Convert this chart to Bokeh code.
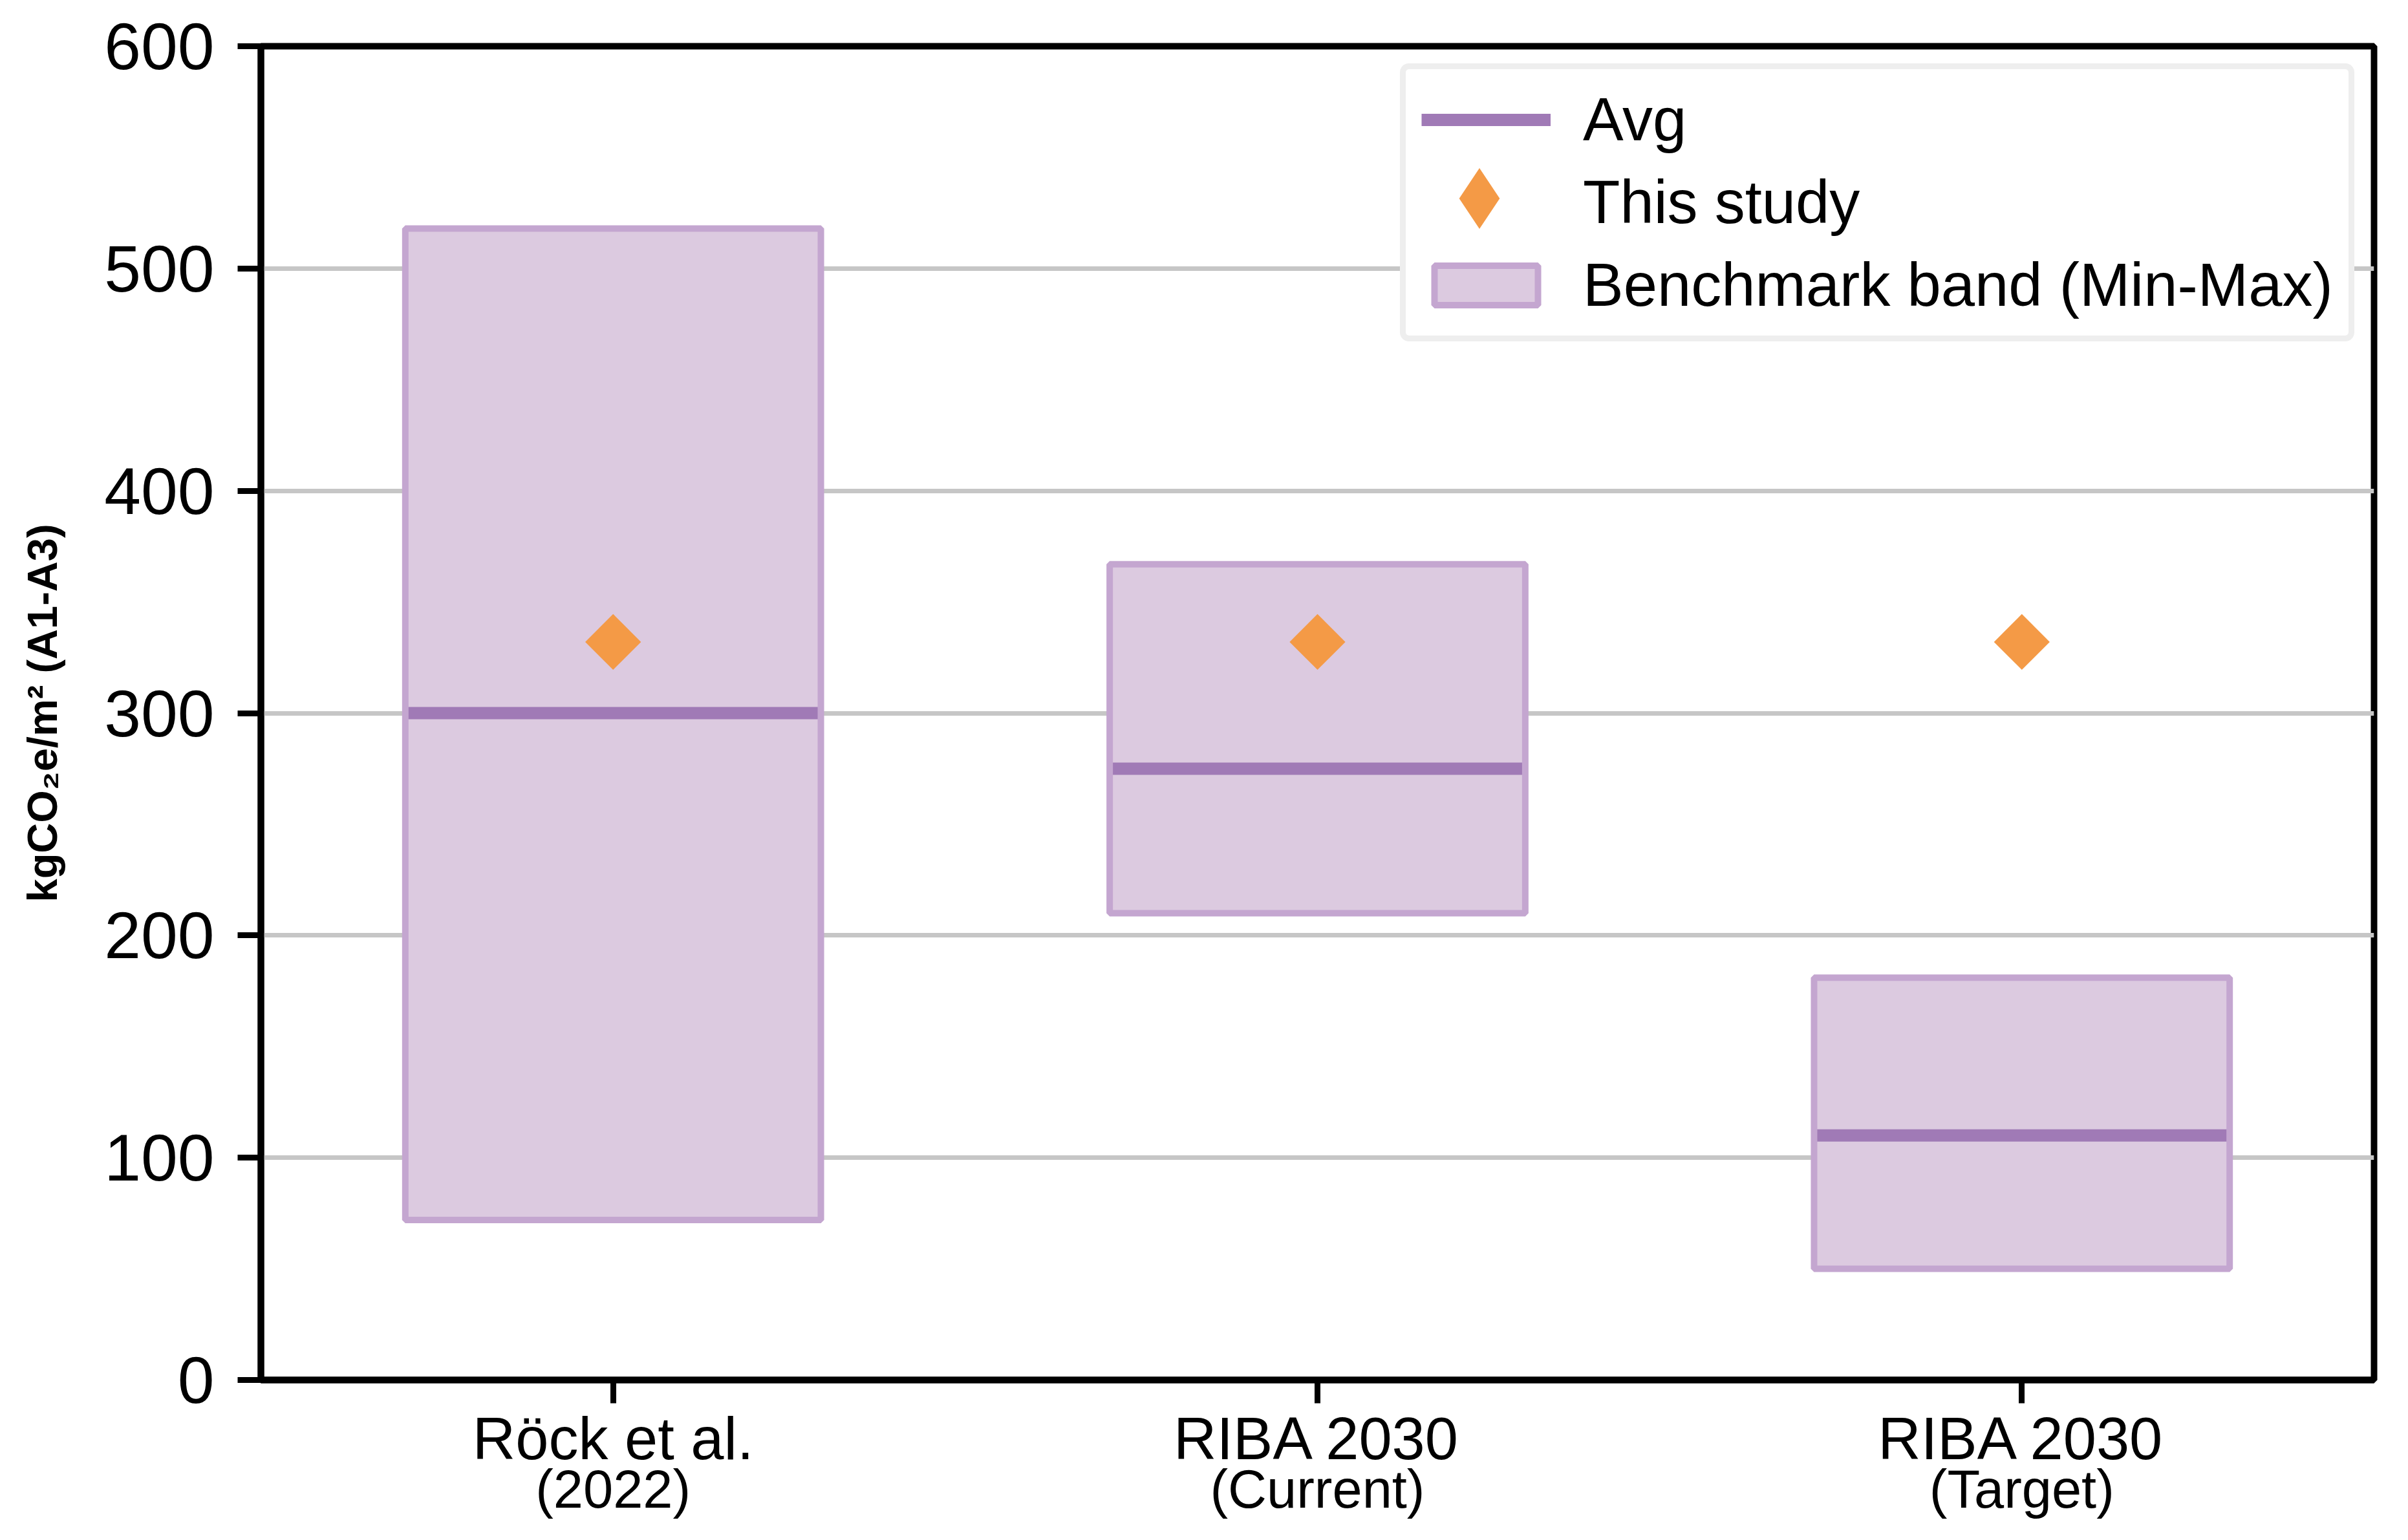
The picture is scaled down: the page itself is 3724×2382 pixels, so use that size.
import math
from bokeh.plotting import figure
from bokeh.models import (Range1d, FixedTicker, Legend, LegendItem,
                          ColumnDataSource, LinearAxis)
from bokeh.embed import file_html
from bokeh.resources import INLINE

# ---------------- data ----------------
categories = ["Röck et al.", "RIBA 2030", "RIBA 2030"]
category_notes = ["(2022)", "(Current)", "(Target)"]
band_min = [72, 210, 50]
band_max = [518, 367, 181]
band_avg = [300, 275, 110]
this_study = [332, 332, 332]
y_ticks = [0, 100, 200, 300, 400, 500, 600]
y_label = "kgCO₂e/m² (A1-A3)"
legend_labels = ["Avg", "This study", "Benchmark band (Min-Max)"]

# ---------------- style / layout ----------------
FONT = "Liberation Sans"
W, H = 3708, 2366
FRAME_L, FRAME_R, FRAME_T, FRAME_B = 403, 3671, 71, 2134
BOX_W = 0.59
FILL = "#dccae0"
EDGE = "#c4a6d0"
AVG_C = "#a07ab6"
ORANGE = "#f49a46"

xs = list(range(len(categories)))
src = ColumnDataSource(dict(
    x=xs, lo=band_min, hi=band_max, avg=band_avg, study=this_study,
    x0=[x - BOX_W / 2 for x in xs], x1=[x + BOX_W / 2 for x in xs]))

p = figure(width=W, height=H, x_range=Range1d(-0.5, 2.5), y_range=Range1d(0, 600),
           output_backend="svg", toolbar_location=None,
           min_border_left=FRAME_L, min_border_right=W - FRAME_R,
           min_border_top=FRAME_T, min_border_bottom=H - FRAME_B)
p.background_fill_color = "white"
p.border_fill_color = "white"
p.outline_line_color = "black"
p.outline_line_width = 10
p.outline_line_alpha = 1

fill_r = p.vbar(x="x", width=BOX_W, bottom="lo", top="hi", source=src,
                fill_color=FILL, line_color=None)
avg_r = p.segment(x0="x0", y0="avg", x1="x1", y1="avg", source=src,
                  line_color=AVG_C, line_width=19, line_cap="butt")
edge_r = p.vbar(x="x", width=BOX_W, bottom="lo", top="hi", source=src,
                fill_color=None, line_color=EDGE, line_width=10)
# legend key for "This study" (tiny, hidden under the real markers)
key_r = p.scatter(x="x", y="study", source=src, marker="diamond", size=1,
                  fill_color=ORANGE, line_color=None)
study_r = p.scatter(x="x", y="study", source=src, marker="square", size=61,
                    angle=math.pi / 4, fill_color=ORANGE, line_color=None)

# ---------------- axes ----------------
p.xaxis.ticker = FixedTicker(ticks=xs)
p.xaxis.major_label_overrides = {i: c for i, c in enumerate(categories)}
p.yaxis.ticker = FixedTicker(ticks=y_ticks)
p.ygrid.ticker = FixedTicker(ticks=y_ticks)
p.xgrid.visible = False
p.ygrid.grid_line_color = "#c6c6c6"
p.ygrid.grid_line_width = 7

for ax in (p.xaxis[0], p.yaxis[0]):
    ax.axis_line_color = "black"
    ax.axis_line_width = 10
    ax.major_tick_line_color = "black"
    ax.major_tick_line_width = 9
    ax.major_tick_in = 0
    ax.major_tick_out = 36
    ax.minor_tick_line_color = None
    ax.major_label_text_font = FONT
    ax.major_label_text_color = "black"

p.yaxis.major_label_text_font_size = "102px"
p.yaxis.major_label_standoff = 36
p.xaxis.major_label_text_font_size = "92px"
p.xaxis.major_label_standoff = 3

p.yaxis.axis_label = y_label
p.yaxis.axis_label_text_font = FONT
p.yaxis.axis_label_text_font_size = "65px"
p.yaxis.axis_label_text_font_style = "bold"
p.yaxis.axis_label_text_color = "black"
p.yaxis.axis_label_standoff = 56

# second line of the category labels: an extra, line-less axis below
note_axis = LinearAxis(ticker=FixedTicker(ticks=xs),
                       major_label_overrides={i: n for i, n in enumerate(category_notes)})
note_axis.axis_line_color = None
note_axis.major_tick_line_color = None
note_axis.minor_tick_line_color = None
note_axis.major_tick_in = 0
note_axis.major_tick_out = 0
note_axis.major_label_standoff = -22
note_axis.major_label_text_font = FONT
note_axis.major_label_text_font_size = "83px"
note_axis.major_label_text_color = "black"
p.add_layout(note_axis, "below")

# ---------------- legend ----------------
legA = Legend(items=[
    LegendItem(label=legend_labels[0], renderers=[avg_r]),
    LegendItem(label=legend_labels[1], renderers=[key_r]),
    LegendItem(label=legend_labels[2], renderers=[fill_r, edge_r]),
], location=(1762, 1606))
legA.label_text_font = FONT
legA.label_text_font_size = "94px"
legA.label_text_color = "black"
legA.glyph_width = 200
legA.glyph_height = 76
legA.label_standoff = 50
legA.padding = 24
legA.spacing = 20
legA.margin = 0
legA.border_line_color = "#dedede"
legA.border_line_width = 9
legA.background_fill_color = "white"
legA.background_fill_alpha = 1
try:
    legA.border_radius = 14
except Exception:
    pass
p.add_layout(legA)

# enlarged key marker drawn over the legend's second row
legB = Legend(items=[LegendItem(label=" ", renderers=[key_r])], location=(1767, 1710))
legB.glyph_width = 235
legB.glyph_height = 235
legB.padding = 0
legB.spacing = 0
legB.label_standoff = 0
legB.margin = 0
legB.label_text_font_size = "1px"
legB.border_line_alpha = 0
legB.background_fill_alpha = 0
legB.level = "overlay"
p.add_layout(legB)

with open("out.html", "w", encoding="utf-8") as f:
    f.write(file_html(p, INLINE))
